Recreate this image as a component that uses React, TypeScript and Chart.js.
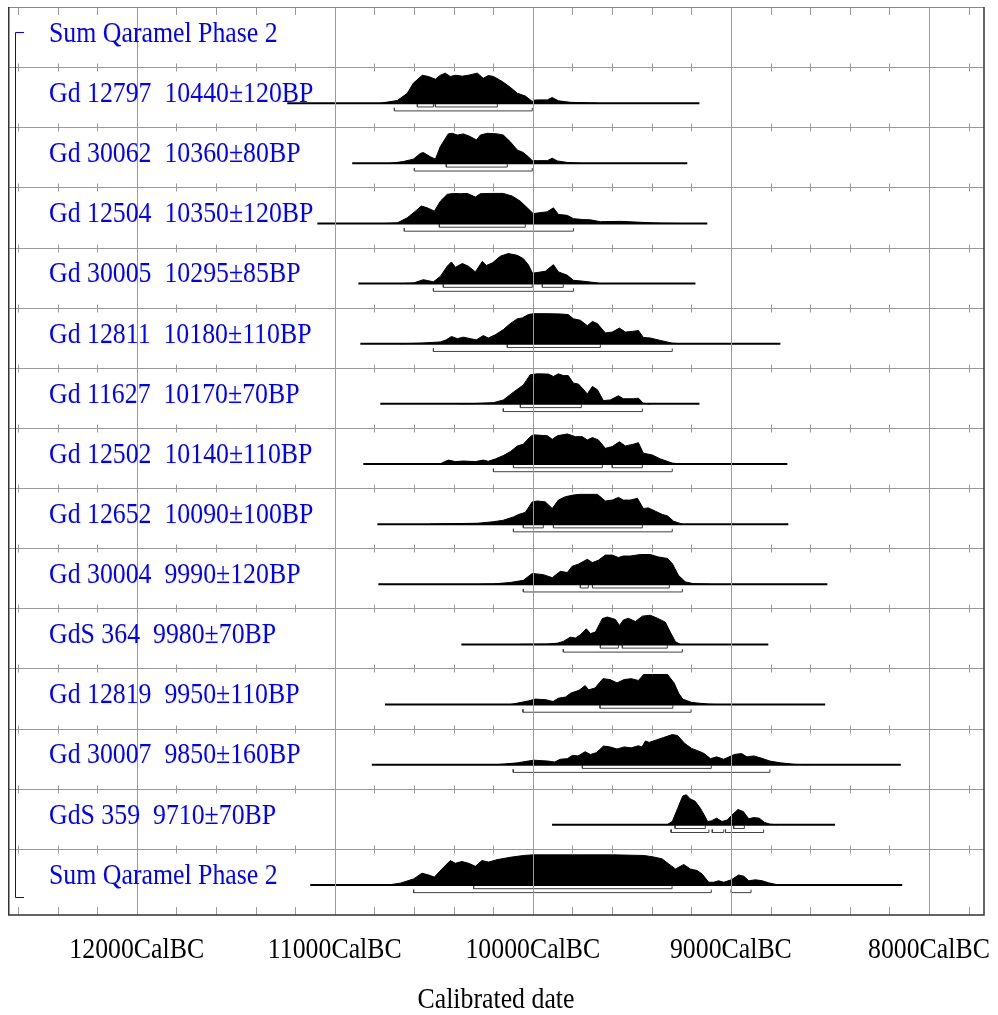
import { useEffect, useRef } from "react";
import { Chart, registerables } from "chart.js";

Chart.register(...registerables);

// Calendar axis (years BC, plotted as negative values so time runs left to right)
const AXIS_MIN_BC = 12650;
const AXIS_MAX_BC = 7722;
const MAJOR_TICKS_BC = [12000, 11000, 10000, 9000, 8000];
const MINOR_STEP = 200;
const ROW_SPAN = 15.1;

const ROW_LABELS = [
  "Sum Qaramel Phase 2",
  "Gd 12797  10440±120BP",
  "Gd 30062  10360±80BP",
  "Gd 12504  10350±120BP",
  "Gd 30005  10295±85BP",
  "Gd 12811  10180±110BP",
  "Gd 11627  10170±70BP",
  "Gd 12502  10140±110BP",
  "Gd 12652  10090±100BP",
  "Gd 30004  9990±120BP",
  "GdS 364  9980±70BP",
  "Gd 12819  9950±110BP",
  "Gd 30007  9850±160BP",
  "GdS 359  9710±70BP",
  "Sum Qaramel Phase 2",
];

// Posterior densities: [year BC, relative probability]
const gd12797 = [[10770,0],[10684,0.09],[10634,0.33],[10603,0.67],[10558,0.93],[10528,0.89],[10492,0.8],[10467,0.93],[10442,1.0],[10417,0.89],[10391,0.93],[10356,0.9],[10326,0.93],[10280,1.0],[10250,0.83],[10225,0.92],[10199,0.89],[10154,0.72],[10114,0.53],[10078,0.33],[10038,0.24],[10003,0.06],[9995,0.1],[9977,0.11],[9927,0.11],[9902,0.19],[9871,0.08],[9811,0.03],[9674,0]];
const gd30062 = [[10720,0],[10654,0.06],[10603,0.14],[10568,0.33],[10553,0.36],[10518,0.22],[10492,0.14],[10467,0.56],[10427,0.98],[10407,1.0],[10381,0.94],[10351,0.98],[10316,0.89],[10285,0.78],[10265,0.94],[10230,1.0],[10179,0.98],[10149,0.94],[10114,0.72],[10078,0.44],[10048,0.36],[10023,0.22],[10003,0.09],[9977,0.09],[9927,0.09],[9902,0.17],[9876,0.08],[9826,0.03],[9760,0]];
const gd12504 = [[10745,0],[10684,0.02],[10634,0.19],[10593,0.41],[10563,0.58],[10533,0.52],[10497,0.41],[10467,0.74],[10432,0.97],[10401,1.0],[10366,0.99],[10331,1.0],[10290,0.88],[10265,0.99],[10215,1.0],[10149,1.0],[10104,0.91],[10063,0.74],[10028,0.52],[10003,0.36],[9997,0.33],[9927,0.39],[9896,0.52],[9871,0.3],[9826,0.27],[9795,0.16],[9745,0.13],[9709,0.12],[9659,0.06],[9558,0.07],[9457,0.04],[9356,0.01],[9255,0]];
const gd30005 = [[10669,0],[10603,0.02],[10553,0.13],[10502,0.06],[10467,0.24],[10432,0.58],[10411,0.72],[10391,0.54],[10356,0.67],[10326,0.58],[10290,0.39],[10255,0.74],[10235,0.6],[10204,0.69],[10164,0.91],[10124,1.0],[10078,0.94],[10048,0.83],[10023,0.63],[10003,0.36],[9997,0.35],[9937,0.41],[9896,0.63],[9871,0.39],[9826,0.28],[9795,0.11],[9745,0.08],[9694,0.04],[9659,0]];
const gd12811 = [[10669,0],[10568,0.02],[10467,0.06],[10437,0.13],[10411,0.24],[10381,0.17],[10351,0.22],[10316,0.17],[10285,0.13],[10250,0.27],[10225,0.19],[10189,0.3],[10149,0.47],[10114,0.67],[10078,0.83],[10053,0.86],[10023,0.97],[9997,1.0],[9927,1.0],[9861,0.99],[9821,0.97],[9795,0.83],[9760,0.78],[9725,0.6],[9699,0.74],[9674,0.67],[9634,0.36],[9599,0.39],[9563,0.52],[9533,0.39],[9498,0.41],[9467,0.44],[9442,0.21],[9407,0.19],[9356,0.11],[9296,0.02],[9255,0]];
const gd11627 = [[10366,0],[10300,0.01],[10199,0.04],[10149,0.13],[10098,0.39],[10048,0.63],[10013,0.97],[9977,1.0],[9922,0.99],[9896,0.91],[9871,1.0],[9846,0.94],[9821,0.94],[9795,0.69],[9770,0.66],[9750,0.52],[9725,0.33],[9699,0.58],[9674,0.47],[9644,0.11],[9609,0.13],[9568,0.27],[9543,0.17],[9492,0.17],[9467,0.19],[9442,0.02],[9407,0]];
const gd12502 = [[10568,0],[10467,0.01],[10427,0.13],[10391,0.08],[10351,0.1],[10290,0.08],[10250,0.13],[10225,0.09],[10189,0.17],[10149,0.28],[10114,0.41],[10078,0.6],[10048,0.66],[10013,0.91],[9997,0.97],[9927,0.94],[9902,0.82],[9876,0.94],[9826,1.0],[9785,0.91],[9750,0.91],[9725,0.8],[9699,0.88],[9669,0.8],[9634,0.52],[9599,0.58],[9563,0.74],[9533,0.6],[9492,0.66],[9467,0.71],[9442,0.36],[9397,0.3],[9356,0.17],[9296,0.03],[9255,0]];
const gd12652 = [[10518,0],[10452,0.01],[10280,0.03],[10199,0.08],[10149,0.13],[10098,0.24],[10073,0.32],[10038,0.39],[10003,0.74],[9977,0.77],[9937,0.74],[9902,0.52],[9871,0.8],[9836,0.91],[9795,0.97],[9760,0.99],[9674,0.99],[9634,0.77],[9599,0.8],[9568,0.89],[9543,0.8],[9508,0.8],[9472,0.86],[9442,0.52],[9417,0.54],[9381,0.43],[9346,0.32],[9321,0.28],[9290,0.1],[9245,0]];
const gd30004 = [[10265,0],[10199,0.01],[10114,0.06],[10048,0.13],[10003,0.36],[9947,0.32],[9902,0.22],[9861,0.43],[9826,0.39],[9801,0.6],[9770,0.67],[9725,0.83],[9699,0.72],[9669,0.8],[9634,0.97],[9599,0.97],[9568,0.89],[9543,0.94],[9508,0.94],[9457,0.99],[9407,0.99],[9366,0.91],[9321,0.86],[9296,0.69],[9265,0.3],[9230,0.08],[9190,0.02],[9104,0]];
const gds364 = [[10063,0],[9927,0.01],[9876,0.04],[9846,0.1],[9811,0.24],[9785,0.21],[9760,0.32],[9730,0.52],[9709,0.36],[9684,0.41],[9649,0.86],[9624,0.91],[9583,0.83],[9563,0.63],[9543,0.81],[9518,0.87],[9482,0.76],[9447,0.94],[9407,0.97],[9371,0.87],[9331,0.74],[9306,0.41],[9280,0.09],[9255,0]];
const gd12819 = [[10113,0],[10023,0.12],[9987,0.18],[9934,0.16],[9898,0.1],[9871,0.21],[9835,0.25],[9808,0.38],[9781,0.44],[9763,0.49],[9736,0.63],[9718,0.49],[9686,0.55],[9646,0.86],[9610,0.83],[9575,0.72],[9539,0.83],[9503,0.86],[9467,0.8],[9440,1.0],[9395,1.0],[9320,1.0],[9287,0.72],[9264,0.38],[9243,0.18],[9198,0.07],[9108,0.01],[9072,0]];
const gd30007 = [[10185,0],[10077,0.06],[10023,0.12],[9996,0.15],[9925,0.12],[9889,0.09],[9862,0.18],[9826,0.2],[9799,0.31],[9772,0.29],[9736,0.43],[9709,0.34],[9679,0.4],[9643,0.62],[9610,0.59],[9575,0.52],[9539,0.59],[9503,0.56],[9467,0.63],[9449,0.59],[9431,0.79],[9413,0.74],[9377,0.82],[9341,0.9],[9296,1.0],[9269,0.97],[9234,0.71],[9198,0.54],[9162,0.45],[9135,0.37],[9103,0.2],[9072,0.26],[9036,0.18],[8982,0.34],[8946,0.37],[8919,0.26],[8884,0.29],[8848,0.22],[8803,0.12],[8749,0.06],[8677,0.01],[8605,0]];
const gds359 = [[9323,0],[9296,0.11],[9269,0.54],[9243,0.96],[9225,1.0],[9207,0.87],[9180,0.78],[9153,0.54],[9135,0.33],[9117,0.11],[9099,0.13],[9072,0.22],[9045,0.11],[9018,0.16],[8991,0.35],[8964,0.51],[8937,0.44],[8910,0.2],[8884,0.24],[8857,0.22],[8830,0.08],[8803,0.02],[8767,0]];
const sumPhase2 = [[10800,0],[10720,0.01],[10669,0.06],[10602,0.2],[10560,0.39],[10526,0.33],[10497,0.26],[10459,0.53],[10417,0.81],[10391,0.72],[10358,0.78],[10324,0.72],[10290,0.62],[10257,0.81],[10223,0.76],[10181,0.84],[10114,0.92],[10046,0.98],[10001,1.0],[9928,1.0],[9760,1.0],[9592,1.0],[9440,0.98],[9398,0.94],[9348,0.87],[9314,0.7],[9280,0.53],[9238,0.68],[9205,0.53],[9171,0.48],[9146,0.37],[9112,0.09],[9087,0.09],[9062,0.14],[9036,0.09],[8998,0.17],[8961,0.33],[8935,0.29],[8910,0.14],[8876,0.17],[8843,0.14],[8809,0.07],[8767,0.01],[8733,0]];

// Rows 1..14 (row 0 is the Sum header with no curve)
const DENSITIES = [gd12797, gd30062, gd12504, gd30005, gd12811, gd11627, gd12502, gd12652, gd30004, gds364, gd12819, gd30007, gds359, sumPhase2];

// Span of each curve's base line [from BC, to BC]
const SPANS = [[11240,9159],[10912,9220],[11088,9119],[10881,9179],[10871,8750],[10770,9159],[10856,8715],[10785,8710],[10780,8513],[10361,8811],[10747,8524],[10813,8142],[9903,8474],[11124,8135]];

// 68.2% highest posterior density ranges
const RANGES_68 = [
  [[10583,10502],[10492,10179]],
  [[10437,10129]],
  [[10472,10038]],
  [[10452,10003],[9952,9846]],
  [[10129,9659]],
  [[10063,9755]],
  [[10098,9649],[9599,9447]],
  [[10048,9947],[9896,9447]],
  [[9760,9720],[9699,9311]],
  [[9659,9568],[9548,9321]],
  [[9661,9293]],
  [[9750,9099]],
  [[9282,9129],[8986,8932]],
  [[10299,9297]],
];

// 95.4% highest posterior density ranges
const RANGES_95 = [
  [[10699,10003]],
  [[10598,10003]],
  [[10649,9795]],
  [[10502,9795]],
  [[10502,9296]],
  [[10149,9447]],
  [[10199,9296]],
  [[10098,9296]],
  [[10048,9245]],
  [[9846,9245]],
  [[10050,9201]],
  [[10099,8803]],
  [[9302,9111],[9094,9036],[9027,8835]],
  [[10602,9099],[8998,8898]],
];

const BASE_OFFSET = 0.6;
const PEAK = 0.5;
const OFF_68 = 0.062;
const OFF_95 = 0.128;
const END_TICK = 0.05;

const SERIF = '"Liberation Serif", "Times New Roman", serif';
const FONT_PX = 29;
const SQUEEZE = 0.89;

function bracketData(ranges: number[][], y: number) {
  const pts: { x: number; y: number | null }[] = [];
  ranges.forEach(([a, b]) => {
    pts.push({ x: -a, y: y - END_TICK });
    pts.push({ x: -a, y });
    pts.push({ x: -b, y });
    pts.push({ x: -b, y: y - END_TICK });
    pts.push({ x: -b, y: null });
  });
  return pts;
}

function squeezedText(ctx: CanvasRenderingContext2D, text: string, x: number, y: number, align: CanvasTextAlign) {
  ctx.save();
  ctx.translate(x, y);
  ctx.scale(SQUEEZE, 1);
  ctx.textAlign = align;
  ctx.textBaseline = "alphabetic";
  ctx.fillText(text, 0, 0);
  ctx.restore();
}

const multiplotPlugin = {
  id: "multiplot",
  beforeDraw(chart: any) {
    const { ctx, width, height } = chart;
    ctx.save();
    ctx.fillStyle = "#ffffff";
    ctx.fillRect(0, 0, width, height);
    ctx.restore();
  },
  afterDatasetsDraw(chart: any) {
    const { ctx, chartArea, scales } = chart;
    const xs = scales.x;
    const ys = scales.y;
    const { left, right, top, bottom } = chartArea;
    ctx.save();
    ctx.lineWidth = 1;
    ctx.strokeStyle = "#9a9a9a";

    // vertical major grid
    MAJOR_TICKS_BC.forEach((bc) => {
      const px = Math.round(xs.getPixelForValue(-bc)) + 0.5;
      ctx.beginPath();
      ctx.moveTo(px, top);
      ctx.lineTo(px, bottom);
      ctx.stroke();
    });

    // row separators with minor ticks
    const minorPx: number[] = [];
    for (let bc = 12600; bc >= 7800; bc -= MINOR_STEP) minorPx.push(Math.round(xs.getPixelForValue(-bc)) + 0.5);
    for (let r = 1; r < ROW_LABELS.length; r++) {
      const py = Math.round(ys.getPixelForValue(r)) + 0.5;
      ctx.beginPath();
      ctx.moveTo(left, py);
      ctx.lineTo(right, py);
      ctx.stroke();
      minorPx.forEach((px) => {
        ctx.beginPath();
        ctx.moveTo(px, py - 4);
        ctx.lineTo(px, py + 4);
        ctx.stroke();
      });
    }
    // ticks hanging from the top edge and rising from the bottom edge
    minorPx.forEach((px) => {
      ctx.beginPath();
      ctx.moveTo(px, top);
      ctx.lineTo(px, top + 8);
      ctx.moveTo(px, bottom);
      ctx.lineTo(px, bottom - 8);
      ctx.stroke();
    });

    // frame
    ctx.strokeStyle = "#8a8a8a";
    ctx.beginPath();
    ctx.moveTo(left, top + 0.5);
    ctx.lineTo(right, top + 0.5);
    ctx.stroke();
    ctx.strokeStyle = "#333333";
    ctx.lineWidth = 1.5;
    ctx.beginPath();
    ctx.moveTo(left + 0.75, top);
    ctx.lineTo(left + 0.75, bottom);
    ctx.lineTo(right, bottom);
    ctx.lineTo(right, top);
    ctx.stroke();

    // group bracket
    ctx.strokeStyle = "#0000ff";
    ctx.lineWidth = 1;
    const bx = 15.5;
    const by0 = Math.round(ys.getPixelForValue(0.41)) + 0.5;
    const by1 = Math.round(ys.getPixelForValue(14.8)) + 0.5;
    ctx.beginPath();
    ctx.moveTo(24, by0);
    ctx.lineTo(bx, by0);
    ctx.lineTo(bx, by1);
    ctx.lineTo(24, by1);
    ctx.stroke();

    // row labels
    ctx.fillStyle = "#0000ff";
    ctx.font = `${FONT_PX}px ${SERIF}`;
    ROW_LABELS.forEach((label, r) => {
      const py = ys.getPixelForValue(r + BASE_OFFSET - 0.02);
      squeezedText(ctx, label, 49, py, "left");
    });

    // axis tick labels and title
    ctx.fillStyle = "#000000";
    MAJOR_TICKS_BC.forEach((bc) => {
      squeezedText(ctx, `${bc}CalBC`, xs.getPixelForValue(-bc), bottom + 43, "center");
    });
    squeezedText(ctx, "Calibrated date", (left + right) / 2, bottom + 93, "center");
    ctx.restore();
  },
};

export default function App() {
  const canvasRef = useRef<HTMLCanvasElement | null>(null);

  useEffect(() => {
    if (!canvasRef.current) return;
    const datasets: any[] = [];
    DENSITIES.forEach((dens, i) => {
      const row = i + 1;
      const base = row + BASE_OFFSET;
      const [s0, s1] = SPANS[i];
      datasets.push({
        data: [{ x: -s0, y: base }, { x: -s1, y: base }],
        borderColor: "#000000",
        borderWidth: 2,
        pointRadius: 0,
        fill: false,
      });
      datasets.push({
        data: dens.map(([bc, p]) => ({ x: -bc, y: base - p * PEAK })),
        borderColor: "#000000",
        backgroundColor: "#000000",
        borderWidth: 1,
        pointRadius: 0,
        fill: { value: base },
      });
      datasets.push({
        data: bracketData(RANGES_68[i], base + OFF_68),
        borderColor: "#404040",
        borderWidth: 1,
        pointRadius: 0,
        fill: false,
        spanGaps: false,
      });
      datasets.push({
        data: bracketData(RANGES_95[i], base + OFF_95),
        borderColor: "#404040",
        borderWidth: 1,
        pointRadius: 0,
        fill: false,
        spanGaps: false,
      });
    });

    const chart = new Chart(canvasRef.current, {
      type: "line",
      data: { datasets },
      options: {
        animation: false,
        responsive: false,
        devicePixelRatio: 1,
        layout: { padding: { left: 8, right: 14, top: 7, bottom: 100 } },
        elements: { line: { tension: 0 } },
        scales: {
          x: { type: "linear", display: false, min: -AXIS_MIN_BC, max: -AXIS_MAX_BC },
          y: { type: "linear", display: false, min: 0, max: ROW_SPAN, reverse: true },
        },
        plugins: { legend: { display: false }, tooltip: { enabled: false } },
      },
      plugins: [multiplotPlugin],
    });
    return () => chart.destroy();
  }, []);

  return (
    <div style={{ position: "fixed", left: 0, top: 0, width: 998, height: 1015, background: "#ffffff" }}>
      <canvas ref={canvasRef} width={998} height={1015} />
    </div>
  );
}
